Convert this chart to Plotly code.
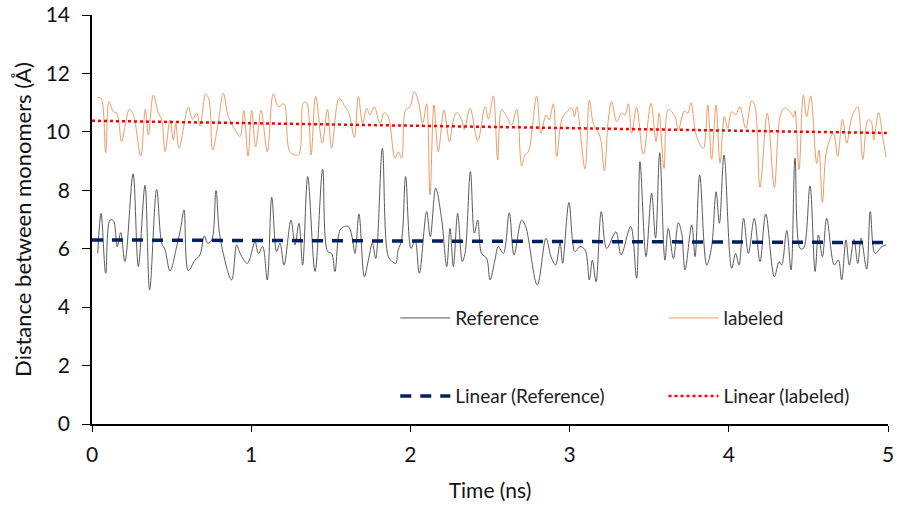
import plotly.graph_objects as go

# Reference series (time in ns, distance in Å)
ref_t = [0.036, 0.057, 0.086, 0.113, 0.134, 0.159, 0.180, 0.207, 0.258, 0.291, 0.333, 0.362, 0.406, 0.438, 0.459,
         0.490, 0.532, 0.559, 0.578, 0.605, 0.647, 0.678, 0.706, 0.727, 0.752, 0.779, 0.804, 0.877, 0.909, 0.930,
         0.976, 1.024, 1.045, 1.072, 1.101, 1.129, 1.160, 1.181, 1.206, 1.250, 1.275, 1.300, 1.323, 1.355, 1.401,
         1.449, 1.480, 1.505, 1.526, 1.558, 1.585, 1.610, 1.631, 1.652, 1.677, 1.711, 1.736, 1.761, 1.782, 1.824,
         1.861, 1.887, 1.907, 1.924, 1.945, 1.970, 2.004, 2.029, 2.056, 2.102, 2.125, 2.159, 2.197, 2.228, 2.249,
         2.270, 2.297, 2.326, 2.343, 2.377, 2.402, 2.423, 2.447, 2.479, 2.500, 2.531, 2.552, 2.584, 2.621, 2.651,
         2.699, 2.724, 2.797, 2.852, 2.883, 2.912, 2.940, 2.956, 2.996, 3.034, 3.065, 3.097, 3.124, 3.143, 3.166,
         3.199, 3.233, 3.291, 3.323, 3.384, 3.421, 3.442, 3.480, 3.515, 3.540, 3.566, 3.599, 3.620, 3.652, 3.683,
         3.704, 3.725, 3.767, 3.788, 3.817, 3.861, 3.892, 3.920, 3.941, 3.970, 4.018, 4.043, 4.064, 4.093, 4.123,
         4.160, 4.196, 4.232, 4.286, 4.316, 4.332, 4.364, 4.391, 4.416, 4.448, 4.469, 4.510, 4.542, 4.563, 4.588,
         4.615, 4.663, 4.688, 4.709, 4.736, 4.757, 4.786, 4.810, 4.831, 4.866, 4.889, 4.919, 4.961, 4.988]
ref_y = [5.84, 7.21, 5.16, 6.98, 6.96, 6.07, 6.55, 5.56, 8.56, 5.39, 8.17, 4.59, 8.03, 6.19, 5.96,
         5.24, 6.07, 6.76, 7.33, 5.25, 5.61, 5.79, 6.44, 6.19, 6.30, 7.99, 6.41, 4.93, 6.13, 5.84,
         5.50, 6.24, 5.84, 6.07, 4.93, 7.76, 5.90, 6.19, 5.44, 6.98, 6.13, 6.87, 5.44, 8.47, 5.22,
         8.72, 5.90, 5.84, 5.22, 6.64, 6.76, 6.76, 6.47, 5.84, 7.19, 5.04, 5.61, 6.19, 5.67, 9.44,
         5.73, 5.56, 5.50, 5.96, 6.30, 8.47, 6.01, 6.30, 5.16, 7.27, 6.41, 8.07, 6.98, 5.39, 6.70,
         5.39, 7.21, 5.56, 5.84, 8.64, 6.53, 6.98, 5.84, 5.67, 4.93, 5.61, 6.07, 5.84, 7.23, 5.79,
         6.98, 6.76, 4.76, 6.36, 5.73, 5.44, 6.19, 5.50, 7.58, 5.90, 6.07, 5.96, 4.93, 5.61, 4.87,
         7.27, 6.01, 6.58, 5.79, 6.76, 4.99, 8.98, 5.73, 7.90, 6.36, 9.29, 5.61, 6.70, 5.67, 6.89,
         6.53, 5.27, 6.81, 5.73, 8.52, 5.44, 6.07, 7.95, 6.87, 9.21, 5.33, 5.84, 5.44, 7.04, 5.84,
         7.04, 5.56, 7.19, 5.04, 5.56, 5.44, 6.62, 5.27, 9.10, 6.01, 6.01, 8.15, 5.22, 6.47, 5.73,
         7.04, 5.44, 5.61, 4.93, 6.30, 5.44, 6.32, 5.50, 6.36, 5.30, 7.27, 5.84, 6.07, 6.13]

# labeled series
lab_t = [0.036, 0.057, 0.086, 0.107, 0.134, 0.155, 0.186, 0.207, 0.235, 0.260, 0.306, 0.335, 0.354, 0.385, 0.417,
         0.438, 0.459, 0.490, 0.511, 0.526, 0.547, 0.605, 0.630, 0.658, 0.679, 0.714, 0.735, 0.758, 0.789, 0.825,
         0.856, 0.898, 0.930, 0.953, 0.980, 1.003, 1.028, 1.062, 1.101, 1.139, 1.170, 1.206, 1.244, 1.296, 1.328,
         1.348, 1.376, 1.405, 1.447, 1.479, 1.505, 1.552, 1.589, 1.614, 1.648, 1.673, 1.700, 1.725, 1.746, 1.773,
         1.809, 1.836, 1.861, 1.903, 1.924, 1.945, 1.970, 1.997, 2.025, 2.050, 2.077, 2.102, 2.123, 2.148, 2.175,
         2.211, 2.245, 2.270, 2.291, 2.323, 2.339, 2.375, 2.423, 2.469, 2.490, 2.521, 2.548, 2.573, 2.605, 2.636,
         2.668, 2.699, 2.720, 2.741, 2.793, 2.820, 2.852, 2.871, 2.898, 2.919, 2.950, 2.982, 3.013, 3.030, 3.045,
         3.097, 3.124, 3.149, 3.191, 3.218, 3.243, 3.264, 3.296, 3.327, 3.348, 3.369, 3.390, 3.421, 3.463, 3.511,
         3.543, 3.562, 3.593, 3.620, 3.662, 3.683, 3.721, 3.742, 3.762, 3.798, 3.840, 3.868, 3.892, 3.920, 3.945,
         3.972, 3.993, 4.018, 4.043, 4.070, 4.106, 4.144, 4.165, 4.196, 4.242, 4.286, 4.322, 4.349, 4.391, 4.405,
         4.416, 4.441, 4.468, 4.489, 4.514, 4.552, 4.567, 4.588, 4.615, 4.657, 4.684, 4.714, 4.741, 4.768, 4.793,
         4.810, 4.842, 4.874, 4.895, 4.910, 4.941, 4.966, 4.988]
lab_y = [11.18, 11.15, 9.29, 11.04, 10.69, 10.64, 9.67, 10.18, 10.77, 10.58, 9.17, 10.77, 9.89, 11.26, 10.64,
         10.41, 9.32, 10.41, 9.72, 10.29, 9.44, 10.84, 10.43, 10.64, 10.20, 11.30, 11.09, 9.38, 10.18, 11.32,
         10.52, 10.07, 9.84, 10.73, 9.17, 10.73, 9.49, 10.73, 9.32, 11.30, 10.86, 10.96, 9.32, 9.21, 11.00,
         11.00, 9.21, 11.21, 9.61, 10.77, 9.44, 11.15, 10.86, 10.64, 9.81, 11.21, 10.29, 10.81, 10.58, 10.86,
         10.29, 10.66, 10.52, 9.10, 9.32, 9.10, 10.75, 10.86, 11.38, 11.04, 10.29, 10.96, 7.84, 10.92, 9.32,
         10.75, 9.67, 10.41, 10.66, 10.41, 10.07, 10.81, 9.69, 10.86, 10.45, 11.23, 9.04, 10.75, 10.52, 10.24,
         10.77, 8.83, 9.21, 9.32, 11.23, 9.95, 10.58, 10.41, 10.96, 9.15, 10.41, 10.69, 10.81, 10.52, 10.86,
         8.72, 11.09, 10.29, 9.84, 8.66, 10.41, 11.04, 10.35, 10.64, 10.58, 10.96, 9.95, 10.84, 9.23, 10.98,
         9.67, 10.64, 8.75, 10.77, 10.52, 10.07, 10.72, 10.64, 11.00, 9.84, 9.44, 10.92, 9.06, 10.92, 8.92,
         10.52, 10.12, 10.69, 10.58, 10.86, 10.12, 11.07, 10.86, 8.10, 10.64, 8.10, 10.52, 10.81, 10.64, 10.50,
         10.73, 8.70, 11.26, 10.52, 11.23, 8.92, 9.38, 7.58, 9.38, 9.95, 9.17, 10.43, 9.61, 10.41, 10.75,
         10.86, 9.06, 10.41, 10.35, 9.72, 10.66, 9.84, 9.13]

# Linear trendlines (endpoints)
trend_t = [0.0, 5.0]
trend_ref = [6.30, 6.21]
trend_lab = [10.38, 9.96]

x_ticks = [0, 1, 2, 3, 4, 5]
y_ticks = [0, 2, 4, 6, 8, 10, 12, 14]

FONT = "Lato"

fig = go.Figure()
fig.add_trace(go.Scatter(x=ref_t, y=ref_y, mode="lines", name="Reference",
                         line=dict(color="#5a5a5a", width=1, shape="spline", smoothing=1.0),
                         legend="legend"))
fig.add_trace(go.Scatter(x=lab_t, y=lab_y, mode="lines", name="labeled",
                         line=dict(color="#EE9B66", width=1, shape="spline", smoothing=1.0),
                         legend="legend2"))
fig.add_trace(go.Scatter(x=trend_t, y=trend_ref, mode="lines", name="Linear (Reference)",
                         line=dict(color="#002060", width=3.5, dash="11px,9px"),
                         legend="legend3"))
fig.add_trace(go.Scatter(x=trend_t, y=trend_lab, mode="lines", name="Linear (labeled)",
                         line=dict(color="#FF0000", width=2.5, dash="dot"),
                         legend="legend4"))

def leg(x, y):
    return dict(x=x, y=y, xanchor="left", yanchor="middle", bgcolor="rgba(0,0,0,0)",
                font=dict(family=FONT, size=19, color="#222222"), itemwidth=50,
                borderwidth=0)

fig.update_layout(
    width=900, height=513,
    margin=dict(l=92, r=12, t=15, b=89, autoexpand=False),
    paper_bgcolor="white", plot_bgcolor="white",
    font=dict(family=FONT, size=18, color="#111111"),
    showlegend=True,
    legend=leg(0.381, 0.259),
    legend2=leg(0.718, 0.259),
    legend3=leg(0.381, 0.068),
    legend4=leg(0.718, 0.068),
    xaxis=dict(range=[0, 5], tickvals=x_ticks, ticks="outside", ticklen=6, tickwidth=1,
               tickcolor="#000", showline=True, linecolor="#000", linewidth=1.5,
               showgrid=False, zeroline=False, tickfont=dict(size=21), automargin=False,
               ticklabelstandoff=5,
               title=dict(text="Time (ns)", font=dict(size=21), standoff=18)),
    yaxis=dict(range=[0, 14], tickvals=y_ticks, ticks="outside", ticklen=8, tickwidth=1,
               tickcolor="#000", showline=True, linecolor="#000", linewidth=1.5,
               showgrid=False, zeroline=False, tickfont=dict(size=21), automargin=False,
               ticklabelstandoff=8,
               title=dict(text="Distance between monomers (Å)", font=dict(size=22), standoff=8)),
)

fig.write_html("out.html")
